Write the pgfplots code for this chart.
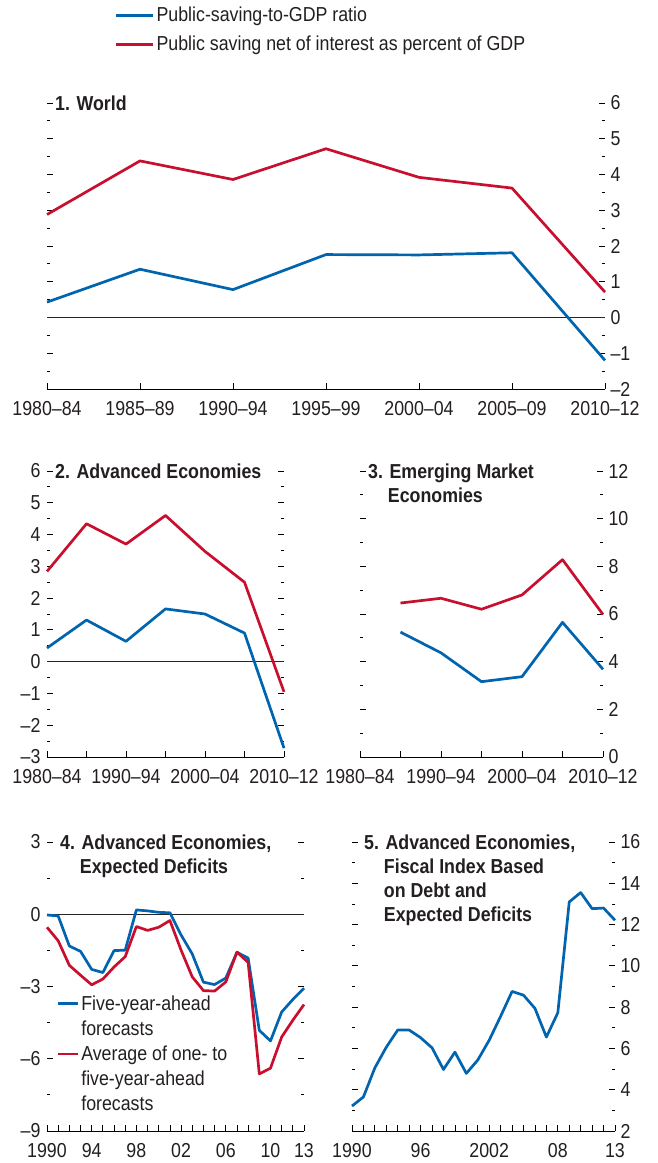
\documentclass[border=0pt]{standalone}
\usepackage{fontspec}
\setmainfont[FakeStretch=0.88]{Liberation Sans}
\usepackage{pgfplots}
\pgfplotsset{compat=1.18}
\definecolor{imfblue}{RGB}{0,100,175}
\definecolor{imfred}{RGB}{200,16,46}
\definecolor{txt}{RGB}{35,31,32}
\newcommand\fs{\fontsize{20.2}{24}\selectfont}
\tikzset{ptitle/.style={anchor=north west, align=left, inner sep=0pt, font=\bfseries\fs, text=txt}}
\pgfplotsset{
  panel/.style={
    scale only axis,
    anchor=south west,
    axis line style={draw=none},
    tick align=inside,
    xtick pos=left,
    major tick length=6pt,
    minor tick length=3pt,
    tick style={black, line width=0.8pt},
    ticklabel style={font=\fs, text=txt},
    /pgf/number format/assume math mode=true,
    xticklabel style={yshift=-9pt},
    enlargelimits=false,
    clip=false,
    every axis plot/.append style={line width=2.7pt, line join=round},
  },
  rlab/.style={yticklabel pos=right, ytick pos=both, yticklabel style={xshift=2pt}},
  llab/.style={yticklabel pos=left, ytick pos=both, yticklabel style={xshift=-3pt}},
}
\begin{document}
\begin{tikzpicture}
\path[use as bounding box] (0pt,0pt) rectangle (657pt,1163pt);

% Panel 1
\begin{axis}[panel, rlab, at={(47pt,774pt)}, width=558pt, height=286pt,
  xmin=0, xmax=6, ymin=-2, ymax=6,
  xtick={0,...,6}, xticklabels={1980–84,1985–89,1990–94,1995–99,2000–04,2005–09,2010–12},
  ytick={-2,...,6}, yticklabels={–2,–1,0,1,2,3,4,5,6}, minor y tick num=1,
  legend style={at={(axis description cs:0.116,1.35)}, anchor=north west, draw=none, fill=none,
    font=\fs, text=txt, row sep=9pt, cells={anchor=west}},
  legend image code/.code={\draw[#1] (0pt,0pt) -- (37pt,0pt);},
]
\addplot[black!85, line width=0.7pt, forget plot] coordinates {(0,0) (6,0)};
\addplot[imfblue] coordinates {(0,0.43) (1,1.35) (2,0.78) (3,1.76) (4,1.75) (5,1.81) (6,-1.2)};
\addlegendentry{Public-saving-to-GDP ratio}
\addplot[imfred] coordinates {(0,2.88) (1,4.38) (2,3.86) (3,4.72) (4,3.92) (5,3.62) (6,0.71)};
\addlegendentry{Public saving net of interest as percent of GDP}
\draw[black, line width=0.8pt] (rel axis cs:0,0) -- (rel axis cs:1,0);
\node[ptitle] at ([xshift=8pt, yshift=7pt]rel axis cs:0,1) {1. World};
\end{axis}

% Panel 2
\begin{axis}[panel, llab, at={(47pt,406pt)}, width=237pt, height=286pt,
  xmin=0, xmax=6, ymin=-3, ymax=6,
  xtick={0,...,6}, xticklabels={1980–84,,1990–94,,2000–04,,2010–12},
  ytick={-3,...,6}, yticklabels={–3,–2,–1,0,1,2,3,4,5,6}, minor y tick num=1,
]
\addplot[black!85, line width=0.7pt] coordinates {(0,0) (6,0)};
\addplot[imfblue] coordinates {(0,0.43) (1,1.31) (2,0.64) (3,1.66) (4,1.5) (5,0.9) (6,-2.72)};
\addplot[imfred] coordinates {(0,2.84) (1,4.34) (2,3.7) (3,4.6) (4,3.47) (5,2.5) (6,-0.95)};
\draw[black, line width=0.8pt] (rel axis cs:0,0) -- (rel axis cs:1,0);
\node[ptitle] at ([xshift=8pt, yshift=7pt]rel axis cs:0,1) {2. Advanced Economies};
\end{axis}

% Panel 3
\begin{axis}[panel, rlab, at={(360pt,406pt)}, width=243pt, height=286pt,
  xmin=0, xmax=6, ymin=0, ymax=12,
  xtick={0,...,6}, xticklabels={1980–84,,1990–94,,2000–04,,2010–12},
  ytick={0,2,...,12}, minor y tick num=1,
]
\addplot[imfblue] coordinates {(1,5.24) (2,4.37) (3,3.16) (4,3.37) (5,5.65) (6,3.68)};
\addplot[imfred] coordinates {(1,6.46) (2,6.66) (3,6.2) (4,6.8) (5,8.28) (6,5.98)};
\draw[black, line width=0.8pt] (rel axis cs:0,0) -- (rel axis cs:1,0);
\node[ptitle] at ([xshift=8pt, yshift=7pt]rel axis cs:0,1) {3. Emerging Market\\\hphantom{3.\ }Economies};
\end{axis}

% Panel 4
\begin{axis}[panel, llab, at={(47pt,32pt)}, width=257pt, height=289pt,
  xmin=1990, xmax=2013, ymin=-9, ymax=3,
  xtick={1990,...,2013}, xticklabels={1990,,,,94,,,,98,,,,02,,,,06,,,,10,,,13},
  ytick={-9,-6,-3,0,3}, yticklabels={–9,–6,–3,0,3}, minor y tick num=1,
  legend style={at={(axis description cs:0.025,0.483)}, anchor=north west, draw=none, fill=none,
    font=\fs, text=txt, row sep=5pt, cells={anchor=west}},
  legend image code/.code={\draw[#1] (0pt,0pt) -- (20pt,0pt);},
]
\addplot[black!85, line width=0.7pt, forget plot] coordinates {(1990,0) (2013,0)};
\addplot[imfblue] coordinates {(1990,-0.03) (1991,-0.07) (1992,-1.32) (1993,-1.54) (1994,-2.29) (1995,-2.42) (1996,-1.51) (1997,-1.49) (1998,0.18) (1999,0.14) (2000,0.08) (2001,0.06) (2002,-0.86) (2003,-1.65) (2004,-2.82) (2005,-2.92) (2006,-2.65) (2007,-1.58) (2008,-1.82) (2009,-4.82) (2010,-5.26) (2011,-4.06) (2012,-3.54) (2013,-3.07)};
\addlegendentry{Five-year-ahead}
\addlegendimage{empty legend}\addlegendentry{forecasts}
\addplot[imfred] coordinates {(1990,-0.54) (1991,-1.10) (1992,-2.12) (1993,-2.53) (1994,-2.93) (1995,-2.69) (1996,-2.19) (1997,-1.76) (1998,-0.51) (1999,-0.67) (2000,-0.54) (2001,-0.26) (2002,-1.49) (2003,-2.6) (2004,-3.17) (2005,-3.19) (2006,-2.81) (2007,-1.57) (2008,-2.0) (2009,-6.63) (2010,-6.39) (2011,-5.1) (2012,-4.4) (2013,-3.75)};
\addlegendentry{Average of one- to}
\addlegendimage{empty legend}\addlegendentry{five-year-ahead}
\addlegendimage{empty legend}\addlegendentry{forecasts}
\draw[black, line width=0.8pt] (rel axis cs:0,0) -- (rel axis cs:1,0);
\node[ptitle] at ([xshift=13pt, yshift=7pt]rel axis cs:0,1) {4. Advanced Economies,\\\hphantom{4.\ }Expected Deficits};
\end{axis}

% Panel 5
\begin{axis}[panel, rlab, at={(352pt,32pt)}, width=263pt, height=289pt,
  xmin=1990, xmax=2013, ymin=2, ymax=16,
  xtick={1990,...,2013}, xticklabels={1990,,,,,,96,,,,,,2002,,,,,,08,,,,,13},
  ytick={2,4,...,16}, minor y tick num=1,
]
\addplot[imfblue] coordinates {(1990,3.21) (1991,3.65) (1992,5.06) (1993,6.06) (1994,6.89) (1995,6.89) (1996,6.52) (1997,6.03) (1998,4.98) (1999,5.82) (2000,4.79) (2001,5.44) (2002,6.4) (2003,7.56) (2004,8.76) (2005,8.58) (2006,7.94) (2007,6.55) (2008,7.73) (2009,13.1) (2010,13.55) (2011,12.77) (2012,12.8) (2013,12.21)};
\draw[black, line width=0.8pt] (rel axis cs:0,0) -- (rel axis cs:1,0);
\node[ptitle] at ([xshift=12pt, yshift=7pt]rel axis cs:0,1) {5. Advanced Economies,\\\hphantom{5.\ }Fiscal Index Based\\\hphantom{5.\ }on Debt and\\\hphantom{5.\ }Expected Deficits};
\end{axis}
\end{tikzpicture}
\end{document}
